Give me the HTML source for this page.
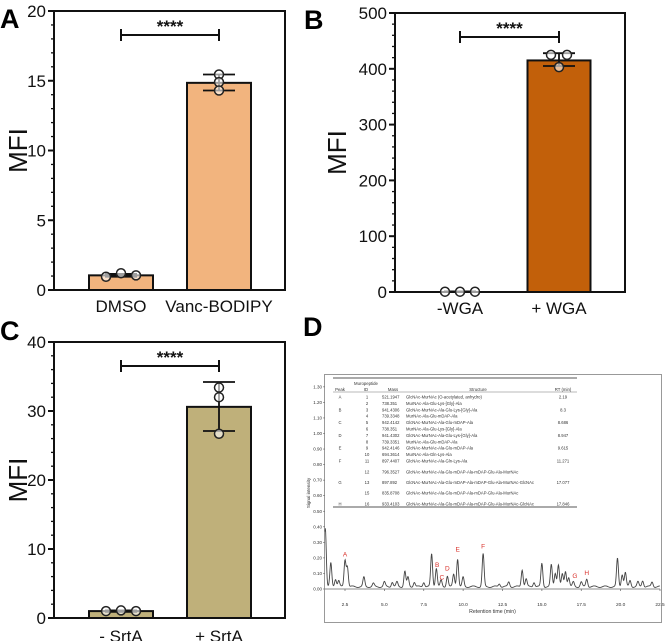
<!DOCTYPE html>
<html><head><meta charset="utf-8">
<style>
html,body{margin:0;padding:0;background:#fff;}
svg{display:block;font-family:"Liberation Sans",Arial,sans-serif;}
</style></head>
<body>
<svg id="fig" width="666" height="641" viewBox="0 0 666 641" xmlns="http://www.w3.org/2000/svg">
  <text x="0" y="28" font-size="27" font-weight="bold">A</text>
  <text x="304" y="29" font-size="27" font-weight="bold">B</text>
  <text x="0" y="340" font-size="27" font-weight="bold">C</text>
  <text x="303" y="336" font-size="27" font-weight="bold">D</text>
</svg>
<script>
// ---- Panel A data ----
const aCategories = ["DMSO", "Vanc-BODIPY"];
const aMeans = [1.05, 14.85];
const aErrLow = [0.95, 14.3];
const aErrHigh = [1.15, 15.45];
const aPoints = [[0.95, 1.2, 1.05], [15.45, 14.9, 14.3]];
const aTicks = [0, 5, 10, 15, 20];
// ---- Panel B data ----
const bCategories = ["-WGA", "+ WGA"];
const bMeans = [0.5, 415];
const bErrLow = [0, 405];
const bErrHigh = [1, 428];
const bPoints = [[0.5, 0.5, 0.5], [425, 425, 403]];
const bTicks = [0, 100, 200, 300, 400, 500];
// ---- Panel C data ----
const cCategories = ["- SrtA", "+ SrtA"];
const cMeans = [1.0, 30.6];
const cErrLow = [0.9, 27.1];
const cErrHigh = [1.1, 34.2];
const cPoints = [[1.0, 1.1, 1.0], [33.4, 32.0, 26.7]];
const cTicks = [0, 10, 20, 30, 40];
// ---- Panel D data (chromatogram peaks) ----
const dPeakTimes = [1.25, 1.6, 1.9, 2.1, 2.5, 2.65, 3.7, 4.3, 5.0, 5.5, 5.8, 6.3, 6.5, 6.9, 7.5, 8.0, 8.3, 8.6, 9.0, 9.4, 9.65, 10.0, 11.27, 12.3, 12.9, 13.75, 14.0, 14.5, 15.0, 15.6, 15.85, 16.05, 16.3, 16.5, 16.7, 17.0, 17.5, 17.85, 19.8, 20.1, 20.3, 20.6, 21.1, 21.4, 22.0];
const dPeakHeights = [0.38, 0.15, 0.05, 0.04, 0.17, 0.13, 0.06, 0.02, 0.03, 0.03, 0.03, 0.1, 0.06, 0.03, 0.03, 0.21, 0.12, 0.04, 0.07, 0.08, 0.18, 0.06, 0.21, 0.02, 0.03, 0.11, 0.05, 0.03, 0.15, 0.14, 0.09, 0.14, 0.08, 0.1, 0.06, 0.03, 0.03, 0.05, 0.18, 0.08, 0.09, 0.04, 0.03, 0.04, 0.03];
const dLabels = ["A", "B", "C", "D", "E", "F", "G", "H"];
const dLabelTimes = [2.5, 8.35, 8.65, 9.0, 9.65, 11.27, 17.1, 17.85];
const dLabelLevels = [0.21, 0.14, 0.06, 0.12, 0.24, 0.26, 0.07, 0.09];
const dXTicks = [2.5, 5.0, 7.5, 10.0, 12.5, 15.0, 17.5, 20.0, 22.5];
const dYTicks = [0, 0.1, 0.2, 0.3, 0.4, 0.5, 0.6, 0.7, 0.8, 0.9, 1.0, 1.1, 1.2, 1.3];
const dBaseline = 0.015;
const tableRows = [
 ["A","1","521.1947","GlcNAc-MurNAc (O-acetylated, anhydro)","2.19"],
 ["","2","738.351","MurNAc-Ala-Glu-Lys-[Gly]-Ala",""],
 ["B","3","941.4306","GlcNAc-MurNAc-Ala-Glu-Lys-[Gly]-Ala","8.3"],
 ["","4","739.3348","MurNAc-Ala-Glu-mDAP-Ala",""],
 ["C","5","942.4142","GlcNAc-MurNAc-Ala-Glu-mDAP-Ala","8.686"],
 ["","6","738.351","MurNAc-Ala-Glu-Lys-[Gly]-Ala",""],
 ["D","7","941.4302","GlcNAc-MurNAc-Ala-Glu-Lys-[Gly]-Ala","8.947"],
 ["","8","739.3351","MurNAc-Ala-Glu-mDAP-Ala",""],
 ["E","9","942.4146","GlcNAc-MurNAc-Ala-Glu-mDAP-Ala","9.615"],
 ["","10","694.3614","MurNAc-Ala-Gln-Lys-Ala",""],
 ["F","11","897.4407","GlcNAc-MurNAc-Ala-Gln-Lys-Ala","11.271"],
 ["","12","796.3527","GlcNAc-MurNAc-Ala-Glu-mDAP-Ala-mDAP-Glu-Ala-MurNAc",""],
 ["G","13","897.892","GlcNAc-MurNAc-Ala-Glu-mDAP-Ala-mDAP-Glu-Ala-MurNAc-GlcNAc","17.077"],
 ["","15","835.8708","GlcNAc-MurNAc-Ala-Glu-mDAP-Ala-mDAP-Glu-Ala-MurNAc",""],
 ["H","16","933.4103","GlcNAc-MurNAc-Ala-Glu-mDAP-Ala-mDAP-Glu-Ala-MurNAc-GlcNAc","17.846"]
];
const rowYs = [397,403.4,409.8,416.2,422.6,429,435.4,441.8,448.2,454.6,461,472,482.5,493,504];

const NS = "http://www.w3.org/2000/svg";
const svg = document.getElementById("fig");
function mk(tag, attrs, parent){
  const e = document.createElementNS(NS, tag);
  for (const k in attrs) e.setAttribute(k, attrs[k]);
  (parent || svg).appendChild(e);
  return e;
}

function barPanel(p, cats, means, lo, hi, pts, ticks, color, minorStep, key){
  const g = mk("g", {});
  
  
  const ymax = ticks[ticks.length-1];
  const y = v => p.bottom - v / ymax * (p.bottom - p.top);
  const frame = mk("rect", {x:p.left, y:p.top, width:p.right-p.left, height:p.bottom-p.top, fill:"none", stroke:"#111", "stroke-width":2}, g);
  
  
  for (let v = 0; v <= ymax + 1e-9; v += minorStep){
    const t = mk("line", {x1:p.left-3, x2:p.left, y1:y(v), y2:y(v), stroke:"#111", "stroke-width":1.3}, g);
    
    
  }
  ticks.forEach(v => {
    const t = mk("line", {x1:p.left-6, x2:p.left, y1:y(v), y2:y(v), stroke:"#111", "stroke-width":2}, g);
    
    
    const tx = mk("text", {x:p.left-8, y:y(v)+6, "font-size":17, "text-anchor":"end", fill:"#111"}, g);
    tx.textContent = v;
    
    
  });
  const yl = mk("text", {x:0, y:0, "font-size":26, "text-anchor":"middle", transform:`translate(${p.titleX},${(p.top+p.bottom)/2}) rotate(-90)`, fill:"#111"}, g);
  yl.textContent = "MFI";
  
  
  const cx = [p.c1, p.c2];
  cats.forEach((c, i) => {
    if (means[i] > ymax*0.005){
      const b = mk("rect", {x:cx[i]-p.bw/2, y:y(means[i]), width:p.bw, height:p.bottom-y(means[i]), fill:color, stroke:"#111", "stroke-width":2}, g);
      
      
    }
    const e = mk("path", {d:`M${cx[i]},${y(lo[i])}V${y(hi[i])}M${cx[i]-16},${y(lo[i])}H${cx[i]+16}M${cx[i]-16},${y(hi[i])}H${cx[i]+16}`, stroke:"#111", "stroke-width":1.8, fill:"none"}, g);
    
    
    pts[i].forEach((v, j) => {
      const dx = p.spread[i][j];
      const ci = mk("circle", {cx:cx[i]+dx, cy:y(v), r:4.5, fill:"#fff", "fill-opacity":0.6, stroke:"#222", "stroke-width":1.5}, g);
      
      
    });
    const xl = mk("text", {x:cx[i], y:p.bottom+p.xlOff, "font-size":17, "text-anchor":"middle", fill:"#111"}, g);
    xl.textContent = c;
    
    
  });
  const sb = mk("path", {d:`M${p.c1},${p.sigY-6}V${p.sigY+6}M${p.c1},${p.sigY}H${p.c2}M${p.c2},${p.sigY-6}V${p.sigY+6}`, stroke:"#111", "stroke-width":2, fill:"none"}, g);
  
  
  const st = mk("text", {x:(p.c1+p.c2)/2, y:p.sigY-3, "font-size":17, "font-weight":"bold", "text-anchor":"middle", fill:"#111"}, g);
  st.textContent = "****";
  
  
}

barPanel({left:54,right:285,top:11,bottom:290,c1:121,c2:219,bw:64,sigY:35,titleX:27,xlOff:22,spread:[[-15,0,15],[0,0,0]]}, aCategories, aMeans, aErrLow, aErrHigh, aPoints, aTicks, "#F2B47E", 1, "a");
barPanel({left:395,right:625,top:13,bottom:292,c1:460,c2:559,bw:63,sigY:37,titleX:346,xlOff:22,spread:[[-15,0,15],[-8,8,0]]}, bCategories, bMeans, bErrLow, bErrHigh, bPoints, bTicks, "#C2600A", 20, "b");
barPanel({left:54,right:285,top:342,bottom:618,c1:121,c2:219,bw:64,sigY:366,titleX:27,xlOff:24,spread:[[-15,0,15],[0,0,0]]}, cCategories, cMeans, cErrLow, cErrHigh, cPoints, cTicks, "#BFB07A", 2, "c");

// ---- Panel D ----
const gd = mk("g", {});


const fr = mk("rect", {x:324.5, y:374.5, width:337, height:248, fill:"#fff", stroke:"#999", "stroke-width":1}, gd);


const dx0 = 325, dx1 = 660, t0 = 1.23, t1 = 22.5;
const dX = t => dx0 + (t - t0) / (t1 - t0) * (dx1 - dx0);
const dY = v => 589 - v * 155.5;
const ax = mk("path", {d:`M${dx0},${dY(0)}H${dx1}`, stroke:"#666", "stroke-width":0.8, fill:"none"}, gd);


dYTicks.forEach(v => {
  const l = mk("line", {x1:dx0-2, x2:dx0, y1:dY(v), y2:dY(v), stroke:"#666", "stroke-width":0.6}, gd);
  
  
  const t = mk("text", {x:dx0-3, y:dY(v)+1.5, "font-size":4.5, "text-anchor":"end", fill:"#333"}, gd);
  t.textContent = v.toFixed(2);
  
  
});
dXTicks.forEach(v => {
  const l = mk("line", {x1:dX(v), x2:dX(v), y1:dY(0), y2:dY(0)+2, stroke:"#666", "stroke-width":0.7}, gd);
  
  
  const t = mk("text", {x:dX(v), y:dY(0)+17, "font-size":4.8, "text-anchor":"middle", fill:"#333"}, gd);
  t.textContent = v.toFixed(1);
  
  
});
const xt = mk("text", {x:(dx0+dx1)/2, y:613, "font-size":5.2, "text-anchor":"middle", fill:"#333"}, gd);
xt.textContent = "Retention time (min)";


const yt = mk("text", {x:0, y:0, "font-size":4.5, "text-anchor":"middle", fill:"#333", transform:`translate(310,493) rotate(-90)`}, gd);
yt.textContent = "Signal intensity";


// table
const tb = mk("g", {}, gd);


mk("line", {x1:333, x2:577, y1:378, y2:378, stroke:"#555", "stroke-width":1}, tb);
mk("line", {x1:333, x2:577, y1:392, y2:392, stroke:"#777", "stroke-width":0.6}, tb);
mk("line", {x1:333, x2:577, y1:507, y2:507, stroke:"#555", "stroke-width":1}, tb);
const hdr = [["Peak",340,391],["Muropeptide",366,385],["ID",366,391],["Mass",393,391],["Structure",478,391],["RT (min)",563,391]];
hdr.forEach(h => { const t = mk("text", {x:h[1], y:h[2], "font-size":4.3, "text-anchor":"middle", fill:"#333"}, tb); t.textContent = h[0]; });
tableRows.forEach((r, i) => {
  const yy = rowYs[i] + 1.5;
  [[r[0],340,"middle"],[r[1],367,"middle"],[r[2],382,"start"],[r[3],406,"start"],[r[4],563,"middle"]].forEach(c => {
    const t = mk("text", {x:c[1], y:yy, "font-size":4.2, "text-anchor":c[2], fill:"#333"}, tb);
    t.textContent = c[0];
  });
});
// trace
let dpath = "";
for (let t = t0; t <= t1 + 1e-9; t += 0.02){
  let v = dBaseline + 0.005 * Math.sin(t * 9);
  dPeakTimes.forEach((pt, i) => { v += dPeakHeights[i] * Math.exp(-Math.pow((t - pt) / 0.06, 2) / 2); });
  dpath += (dpath ? "L" : "M") + dX(t).toFixed(2) + "," + dY(v).toFixed(2);
}
const tr = mk("path", {d:dpath, stroke:"#444", "stroke-width":0.9, fill:"none"}, gd);


dLabels.forEach((s, i) => {
  const t = mk("text", {x:dX(dLabelTimes[i]), y:dY(dLabelLevels[i]), "font-size":6.5, "text-anchor":"middle", fill:"#d9302a"}, gd);
  t.textContent = s;
  
  
});
</script>
</body></html>
